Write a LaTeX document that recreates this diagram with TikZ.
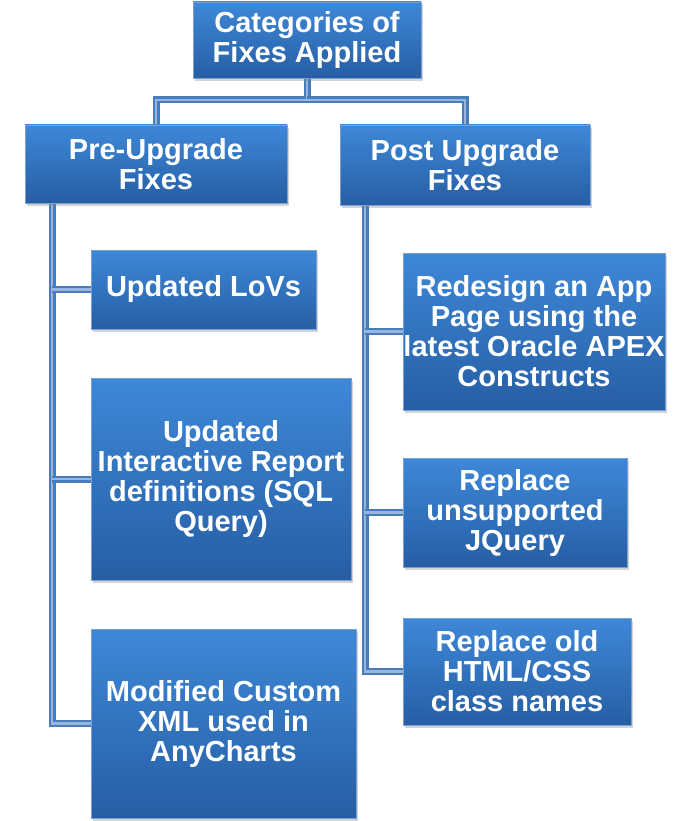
\documentclass[tikz,border=0pt]{standalone}
\usepackage{fontspec}
\setmainfont{Liberation Sans}
\usepackage{tikz}
\usetikzlibrary{shadows,backgrounds}
\definecolor{boxtop}{RGB}{62,136,216}
\definecolor{boxbottom}{RGB}{38,94,164}
\definecolor{boxedge}{RGB}{120,160,210}
\definecolor{pipeblue}{RGB}{72,124,186}
\definecolor{pipelight}{RGB}{150,182,222}
\tikzset{
	fix chart/.style={
		x=1pt,y=-1pt,
		font=\fontsize{29}{30}\selectfont\bfseries
	},
	fixbox/.style 2 args={% width, height
		rectangle,
		draw=boxedge,
		line width=0.6pt,
		top color=boxtop,
		bottom color=boxbottom,
		text=white,
		align=center,
		inner sep=0pt,
		minimum width=#1,
		minimum height=#2,
		drop shadow={opacity=0.35,shadow xshift=2pt,shadow yshift=-3pt}
	},
	pipe/.style={
		draw=pipeblue,
		line width=2.2pt,
		double=pipelight,
		double distance=2.6pt
	}
}

\begin{document}
\begin{tikzpicture}[fix chart]
	\useasboundingbox (0,0) rectangle (692,821);
	\node[fixbox={228pt}{76pt}] (root) at (307,40) {Categories of\\Fixes Applied};
	\node[fixbox={262pt}{78pt}] (pre) at (156,164) {Pre-Upgrade\\Fixes};
	\node[fixbox={250pt}{80pt}] (post) at (465,165) {Post Upgrade\\Fixes};
	\node[fixbox={225pt}{79pt}] (lovs) at (203.5,289.5) {Updated LoVs};
	\node[fixbox={260pt}{202pt}] (irdef) at (221,479) {Updated\\Interactive Report\\definitions (SQL\\Query)};
	\node[fixbox={265pt}{189pt}] (xml) at (223.5,723.5) {Modified Custom\\XML used in\\AnyCharts};
	\node[fixbox={262pt}{157pt}] (redesign) at (534,331.5) {Redesign an App\\Page using the\\latest Oracle APEX\\Constructs};
	\node[fixbox={224pt}{109pt}] (jquery) at (515,512.5) {Replace\\unsupported\\JQuery};
	\node[fixbox={228pt}{107pt}] (html) at (517,671.5) {Replace old\\HTML/CSS\\class names};
	% connectors behind the boxes
	\coordinate (bar) at (307,100);
	\coordinate (prestem) at (52,200);
	\coordinate (poststem) at (365,200);
	\begin{scope}[on background layer]
		\draw[pipe] (root.south) -- (bar) -| (pre.north);
		\draw[pipe] (bar) -| (post.north);
		\draw[pipe] (prestem) |- (xml.west);
		\draw[pipe] (prestem |- lovs.west) -- (lovs.west);
		\draw[pipe] (prestem |- irdef.west) -- (irdef.west);
		\draw[pipe] (poststem) |- (html.west);
		\draw[pipe] (poststem |- redesign.west) -- (redesign.west);
		\draw[pipe] (poststem |- jquery.west) -- (jquery.west);
	\end{scope}
\end{tikzpicture}
\end{document}
